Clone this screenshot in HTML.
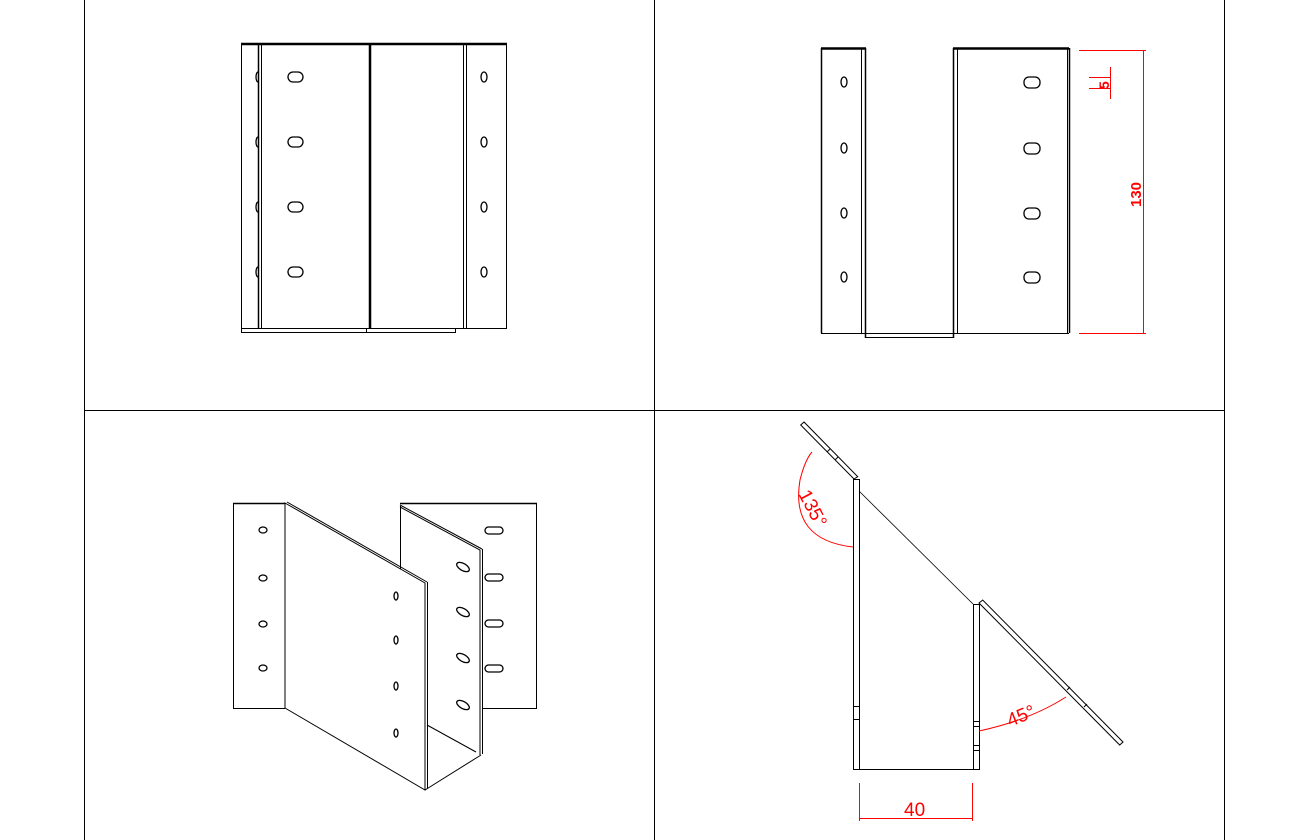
<!DOCTYPE html>
<html><head><meta charset="utf-8"><style>html,body{margin:0;padding:0;background:#fff}svg{display:block}</style></head>
<body>
<svg width="1300" height="840" viewBox="0 0 1300 840" xmlns="http://www.w3.org/2000/svg" font-family="Liberation Sans, sans-serif">
<g stroke="#000" fill="none" stroke-width="1">
<line x1="84.5" y1="0" x2="84.5" y2="840"/>
<line x1="654.5" y1="0" x2="654.5" y2="840"/>
<line x1="1224.5" y1="0" x2="1224.5" y2="840"/>
<line x1="84" y1="410.5" x2="1224" y2="410.5"/>

<!-- top-left view -->
<line x1="241" y1="44" x2="507" y2="44" stroke-width="2.5"/>
<line x1="241.5" y1="44" x2="241.5" y2="333"/>
<line x1="258.5" y1="44" x2="258.5" y2="328" stroke-width="1.5"/>
<line x1="261.5" y1="44" x2="261.5" y2="328"/>
<line x1="370" y1="44" x2="370" y2="328" stroke-width="2.5"/>
<line x1="463.5" y1="44" x2="463.5" y2="328"/>
<line x1="466.5" y1="44" x2="466.5" y2="328"/>
<line x1="506.5" y1="44" x2="506.5" y2="328"/>
<line x1="241" y1="328.5" x2="507" y2="328.5"/>
<line x1="241" y1="332.5" x2="455" y2="332.5"/>
<line x1="455.5" y1="328" x2="455.5" y2="333"/>
<line x1="366.5" y1="328" x2="366.5" y2="333"/>
<g stroke-width="1.3">
<rect x="288" y="72" width="15" height="10" rx="5"/><rect x="288" y="137" width="15" height="10" rx="5"/><rect x="288" y="202" width="15" height="10" rx="5"/><rect x="288" y="267" width="15" height="10" rx="5"/>
<ellipse cx="484" cy="77" rx="3" ry="5"/><ellipse cx="484" cy="142" rx="3" ry="5"/><ellipse cx="484" cy="207" rx="3" ry="5"/><ellipse cx="484" cy="272" rx="3" ry="5"/>
<path d="M258 72 a2 5 0 0 0 0 10"/><path d="M258 137 a2 5 0 0 0 0 10"/><path d="M258 202 a2 5 0 0 0 0 10"/><path d="M258 267 a2 5 0 0 0 0 10"/>
</g>

<!-- top-right view -->
<line x1="821" y1="48.5" x2="866" y2="48.5" stroke-width="2.5"/>
<line x1="953" y1="48.5" x2="1069" y2="48.5" stroke-width="2.5"/>
<line x1="821.5" y1="48" x2="821.5" y2="333" stroke-width="1.5"/>
<line x1="861.5" y1="48" x2="861.5" y2="333"/>
<line x1="865.5" y1="48" x2="865.5" y2="338" stroke-width="1.5"/>
<line x1="821" y1="333.5" x2="866" y2="333.5"/>
<line x1="865" y1="333.5" x2="954" y2="333.5"/>
<line x1="865" y1="337.5" x2="954" y2="337.5"/>
<line x1="953.5" y1="48" x2="953.5" y2="338" stroke-width="1.5"/>
<line x1="957.5" y1="48" x2="957.5" y2="333"/>
<line x1="1067.5" y1="48" x2="1067.5" y2="333"/>
<line x1="1069.5" y1="48" x2="1069.5" y2="333" stroke-width="1.5"/>
<line x1="953" y1="333.5" x2="1069" y2="333.5"/>
<g stroke-width="1.3">
<ellipse cx="844" cy="82" rx="3" ry="5"/><ellipse cx="844" cy="148" rx="3" ry="5"/><ellipse cx="844" cy="213" rx="3" ry="5"/><ellipse cx="844" cy="277" rx="3" ry="5"/>
<rect x="1024" y="77" width="16" height="11" rx="5"/><rect x="1024" y="143" width="16" height="11" rx="5"/><rect x="1024" y="208" width="16" height="11" rx="5"/><rect x="1024" y="272" width="16" height="11" rx="5"/>
</g>

<!-- isometric -->
<line x1="233" y1="503.5" x2="285" y2="503.5" stroke-width="1.5"/>
<line x1="233.5" y1="503" x2="233.5" y2="708"/>
<line x1="233" y1="708.5" x2="285" y2="708.5"/>
<line x1="400" y1="503.5" x2="537" y2="503.5" stroke-width="1.5"/>
<line x1="536.5" y1="503" x2="536.5" y2="708"/>
<line x1="482" y1="708.5" x2="537" y2="708.5"/>
<path d="M400 507 L480 550 L480 755" />
<line x1="400" y1="505" x2="482" y2="549"/>
<line x1="482.5" y1="549" x2="482.5" y2="754"/>
<line x1="400.5" y1="506" x2="400.5" y2="577"/>
<path d="M285 503 L425 583 L425 790 L285 708 Z" fill="#fff"/>
<line x1="287" y1="502" x2="427" y2="582"/>
<line x1="427.5" y1="582" x2="427.5" y2="789"/>
<line x1="425" y1="790" x2="481" y2="755"/>
<line x1="427" y1="725" x2="476" y2="752"/>
<g stroke-width="1.3">
<ellipse cx="263" cy="530" rx="4" ry="3"/><ellipse cx="263" cy="578" rx="4" ry="3"/><ellipse cx="263" cy="624" rx="4" ry="3"/><ellipse cx="263" cy="668" rx="4" ry="3"/>
<ellipse cx="396" cy="596" rx="2" ry="4"/><ellipse cx="396" cy="640" rx="2" ry="4"/><ellipse cx="396" cy="686" rx="2" ry="4"/><ellipse cx="396" cy="733" rx="2" ry="4"/>
<ellipse cx="463" cy="567" rx="7" ry="3.5" transform="rotate(30 463 567)"/><ellipse cx="463" cy="612" rx="7" ry="3.5" transform="rotate(30 463 612)"/><ellipse cx="463" cy="658" rx="7" ry="3.5" transform="rotate(30 463 658)"/><ellipse cx="463" cy="705" rx="7" ry="3.5" transform="rotate(30 463 705)"/>
<rect x="485" y="527" width="18" height="7" rx="3.5"/><rect x="485" y="574" width="18" height="7" rx="3.5"/><rect x="485" y="620" width="18" height="7" rx="3.5"/><rect x="485" y="665" width="18" height="7" rx="3.5"/>
</g>

<!-- side view -->
<rect x="853.5" y="479.5" width="6" height="290"/>
<rect x="973.5" y="604.5" width="6" height="165"/>
<line x1="853" y1="769.5" x2="979" y2="769.5"/>
<line x1="853" y1="706.5" x2="859" y2="706.5"/><line x1="853" y1="719.5" x2="859" y2="719.5"/>
<line x1="973" y1="721.5" x2="979" y2="721.5"/><line x1="973" y1="726.5" x2="979" y2="726.5"/><line x1="973" y1="745.5" x2="979" y2="745.5"/><line x1="973" y1="750.5" x2="979" y2="750.5"/>
<polygon points="800.7,425 804,422 857.7,476.7 854,479"/>
<line x1="827" y1="452" x2="830" y2="449" /><line x1="835" y1="460" x2="838" y2="457"/>
<polygon points="979,603 982.7,600 1123,742 1119.7,745"/>
<line x1="1067" y1="690" x2="1070" y2="687"/><line x1="1084" y1="707" x2="1087" y2="704"/>
<line x1="859" y1="491" x2="973" y2="604" stroke-width="0.8"/>
</g>
<g stroke="red" fill="none" stroke-width="1">
<line x1="1079" y1="50.5" x2="1146" y2="50.5"/>
<line x1="1079" y1="333.5" x2="1146" y2="333.5"/>
<line x1="1143.5" y1="50" x2="1143.5" y2="333"/>
<line x1="1110.5" y1="67" x2="1110.5" y2="99"/>
<line x1="1089" y1="77.5" x2="1111" y2="77.5"/>
<line x1="1089" y1="88.5" x2="1111" y2="88.5"/>
<path d="M853 547 Q790 540 800 480 Q805 460 812 452"/>
<path d="M979 731 Q1030 720 1066 697"/>
<line x1="859.5" y1="783" x2="859.5" y2="821"/>
<line x1="972.5" y1="783" x2="972.5" y2="821"/>
<line x1="859" y1="818.5" x2="973" y2="818.5"/>
</g>
<g fill="red">
<text transform="translate(1141 207) rotate(-90)" font-weight="bold" font-size="15">130</text>
<text transform="translate(1109 89) rotate(-90)" font-weight="bold" font-size="14">5</text>
<text transform="translate(798 494) rotate(62)" font-size="19">135°</text>
<text transform="translate(1010 727) rotate(-22)" font-size="19">45°</text>
<text x="904" y="816" font-size="19">40</text>
</g>
</svg>
</body></html>
